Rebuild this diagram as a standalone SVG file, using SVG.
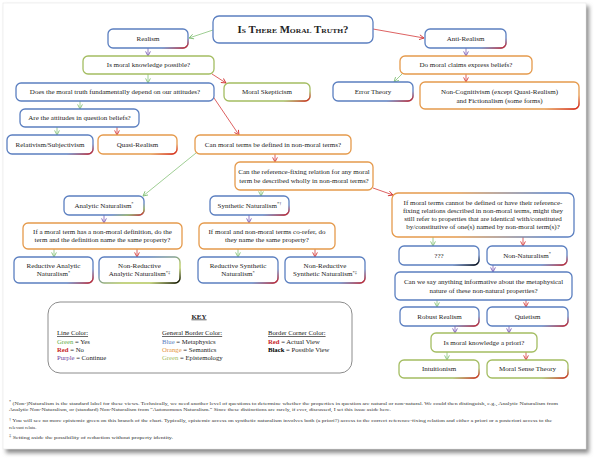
<svg xmlns="http://www.w3.org/2000/svg" width="594" height="462" viewBox="0 0 594 462">
<defs>
<style>
text{font-family:"Liberation Serif","Times New Roman",serif;fill:#222}
.t{font-size:7px;text-anchor:middle}
.k{font-size:6.7px}
.fn{font-size:4.6px;fill:#333}
.n rect{fill:#fff;stroke-width:1.3}
.b{stroke:#5b7fc0}
.o{stroke:#e59a4c}
.g{stroke:#a4bd62}
.cr{fill:none;stroke:url(#gRed);stroke-width:1.5}
.ck{fill:none;stroke:url(#gBlk);stroke-width:1.5}
.cg{fill:none;stroke:url(#gGR);stroke-width:1.5}
#connectors line{stroke-width:0.8;fill:none}
.lg{stroke:#86c178;marker-end:url(#mg)}
.lr{stroke:#d43a3a;marker-end:url(#mr)}
.lp{stroke:#7b5cb6;marker-end:url(#mp)}
.sup{font-size:4.5px}
</style>
<linearGradient id="gRed" x1="0" y1="0" x2="1" y2="1"><stop offset="0.5" stop-color="#d42020" stop-opacity="0"/><stop offset="1" stop-color="#d42020"/></linearGradient>
<linearGradient id="gBlk" x1="0" y1="0" x2="1" y2="1"><stop offset="0.5" stop-color="#000" stop-opacity="0"/><stop offset="1" stop-color="#000"/></linearGradient>
<linearGradient id="gGR" x1="0" y1="0" x2="1" y2="1"><stop offset="0.5" stop-color="#a4bd62" stop-opacity="0"/><stop offset="0.75" stop-color="#a4bd62"/><stop offset="1" stop-color="#d42020"/></linearGradient>
<linearGradient id="gOB" x1="0" y1="0" x2="1" y2="0"><stop offset="0.35" stop-color="#e59a4c"/><stop offset="0.85" stop-color="#5b7fc0"/></linearGradient>
<linearGradient id="gBG" x1="0" y1="0" x2="1" y2="1"><stop offset="0.3" stop-color="#5b7fc0"/><stop offset="0.65" stop-color="#b2c65a"/></linearGradient>
<marker id="mg" viewBox="0 0 6 6" refX="5.2" refY="3" markerWidth="6" markerHeight="6" markerUnits="userSpaceOnUse" orient="auto"><path d="M0.6,0.6 L5.2,3 L0.6,5.4" fill="none" stroke="#86c178" stroke-width="0.9"/></marker>
<marker id="mr" viewBox="0 0 6 6" refX="5.2" refY="3" markerWidth="6" markerHeight="6" markerUnits="userSpaceOnUse" orient="auto"><path d="M0.6,0.6 L5.2,3 L0.6,5.4" fill="none" stroke="#d43a3a" stroke-width="0.9"/></marker>
<marker id="mp" viewBox="0 0 6 6" refX="5.2" refY="3" markerWidth="6" markerHeight="6" markerUnits="userSpaceOnUse" orient="auto"><path d="M0.6,0.6 L5.2,3 L0.6,5.4" fill="none" stroke="#7b5cb6" stroke-width="0.9"/></marker>
<filter id="blur" x="-5%" y="-5%" width="110%" height="110%"><feGaussianBlur stdDeviation="2"/></filter>
</defs>
<rect width="594" height="462" fill="#fff"/>
<rect x="6" y="6" width="583" height="447" fill="#8a8a8a" filter="url(#blur)"/>
<rect x="3" y="3" width="583" height="446" fill="#fff" stroke="#e6e6e6" stroke-width="0.6"/>

<g id="connectors">
<line class="lg" x1="213" y1="30" x2="189" y2="38"/>
<line class="lr" x1="373" y1="29" x2="424" y2="38"/>
<line class="lp" x1="148" y1="48" x2="148" y2="56"/>
<line class="lp" x1="466" y1="48" x2="466" y2="56"/>
<line class="lg" x1="148" y1="74" x2="148" y2="83"/>
<line class="lr" x1="212" y1="74" x2="226" y2="83"/>
<line class="lg" x1="402" y1="74" x2="394" y2="82"/>
<line class="lr" x1="466" y1="74" x2="466" y2="82"/>
<line class="lg" x1="80" y1="101" x2="80" y2="109"/>
<line class="lr" x1="212" y1="95" x2="239" y2="135"/>
<line class="lg" x1="57" y1="127" x2="57" y2="135"/>
<line class="lr" x1="117" y1="127" x2="117" y2="135"/>
<line class="lg" x1="196" y1="153" x2="143" y2="196"/>
<line class="lr" x1="275" y1="154" x2="275" y2="162"/>
<line class="lg" x1="261" y1="190" x2="261" y2="196"/>
<line class="lr" x1="373" y1="188" x2="393" y2="195"/>
<line class="lp" x1="104" y1="215" x2="104" y2="223"/>
<line class="lp" x1="249" y1="215" x2="249" y2="223"/>
<line class="lg" x1="54" y1="249" x2="54" y2="257"/>
<line class="lr" x1="137" y1="249" x2="137" y2="257"/>
<line class="lg" x1="238" y1="249" x2="238" y2="257"/>
<line class="lr" x1="315" y1="249" x2="315" y2="257"/>
<line class="lg" x1="433" y1="237" x2="433" y2="246"/>
<line class="lr" x1="523" y1="237" x2="523" y2="246"/>
<line class="lp" x1="493" y1="265" x2="493" y2="272"/>
<line class="lg" x1="437" y1="300" x2="437" y2="307"/>
<line class="lr" x1="526" y1="300" x2="526" y2="307"/>
<line class="lp" x1="455" y1="326" x2="455" y2="333"/>
<line class="lp" x1="509" y1="326" x2="509" y2="333"/>
<line class="lg" x1="447" y1="352" x2="447" y2="360"/>
<line class="lr" x1="526" y1="352" x2="526" y2="360"/>
</g>

<g id="title" class="n"><rect class="b" x="213" y="16" width="160" height="27" rx="6"/><text x="293" y="33" text-anchor="middle" font-size="10" font-weight="bold" font-variant="small-caps" textLength="111" lengthAdjust="spacingAndGlyphs">Is There Moral Truth?</text></g>
<g id="realism" class="n"><rect class="b" x="108" y="29" width="80" height="19" rx="5"/><path class="cr" d="M162,48 H183 A5,5 0 0 0 188,43 V38"/><text class="t" x="148" y="40.8">Realism</text></g>
<g id="anti-realism" class="n"><rect class="b" x="425" y="29" width="81" height="19" rx="5"/><path class="cr" d="M480,48 H501 A5,5 0 0 0 506,43 V38"/><text class="t" x="465.5" y="40.8">Anti-Realism</text></g>
<g id="q-knowledge" class="n"><rect class="g" x="83" y="56" width="131" height="18" rx="5"/><text class="t" x="148.5" y="67.3">Is moral knowledge possible?</text></g>
<g id="q-express" class="n"><rect class="o" x="400" y="56" width="132" height="18" rx="5"/><text class="t" x="466" y="67.3">Do moral claims express beliefs?</text></g>
<g id="q-depend" class="n"><rect class="b" x="16" y="83" width="198" height="18" rx="5"/><text class="t" x="115" y="94.3">Does the moral truth fundamentally depend on our attitudes?</text></g>
<g id="moral-skepticism" class="n"><rect class="g" x="224" y="83" width="86" height="18" rx="5"/><path class="cr" d="M284,101 H305 A5,5 0 0 0 310,96 V91"/><text class="t" x="267" y="94.3">Moral Skepticism</text></g>
<g id="error-theory" class="n"><rect class="b" x="333" y="82" width="80" height="19" rx="5"/><path class="cr" d="M387,101 H408 A5,5 0 0 0 413,96 V91"/><text class="t" x="373" y="93.5">Error Theory</text></g>
<g id="non-cognitivism" class="n"><rect class="o" x="420" y="82" width="159" height="27" rx="5"/><path class="cr" d="M545,109 H574 A5,5 0 0 0 579,104 V95"/><text class="t" x="499.5" y="94">Non-Cognitivism (except Quasi-Realism)</text><text class="t" x="499.5" y="102.5">and Fictionalism (some forms)</text></g>
<g id="q-attitudes" class="n"><rect class="b" x="20" y="109" width="119" height="18" rx="5"/><text class="t" x="79.5" y="120.3">Are the attitudes in question beliefs?</text></g>
<g id="relativism" class="n"><rect class="b" x="7" y="135" width="86" height="19" rx="5"/><path class="cr" d="M67,154 H88 A5,5 0 0 0 93,149 V144"/><text class="t" x="50" y="146.8">Relativism/Subjectivism</text></g>
<g id="quasi-realism" class="n"><rect class="o" x="98" y="135" width="79" height="19" rx="5"/><path class="cr" d="M151,154 H172 A5,5 0 0 0 177,149 V144"/><text class="t" x="137.5" y="146.8">Quasi-Realism</text></g>
<g id="q-defined" class="n"><rect class="o" x="195" y="135" width="156" height="19" rx="5"/><text class="t" x="273" y="146.8">Can moral terms be defined in non-moral terms?</text></g>
<g id="q-reference" class="n"><rect class="o" x="235" y="162" width="138" height="28" rx="5"/><text class="t" x="304" y="174">Can the reference-fixing relation for any moral</text><text class="t" x="304" y="182.5">term be described wholly in non-moral terms?</text></g>
<g id="analytic-naturalism" class="n"><rect class="b" x="64" y="196" width="80" height="19" rx="5"/><path class="cg" d="M112,215 H139 A5,5 0 0 0 144,210 V203"/><text class="t" x="104" y="207.8">Analytic Naturalism<tspan class="sup" dy="-2.5">*</tspan></text></g>
<g id="synthetic-naturalism" class="n"><rect class="b" x="210" y="196" width="79" height="19" rx="5"/><path class="cr" d="M263,215 H284 A5,5 0 0 0 289,210 V205"/><text class="t" x="249.5" y="207.8">Synthetic Naturalism<tspan class="sup" dy="-2.5">*†</tspan></text></g>
<g id="q-nonnatural-refer" class="n"><rect x="392" y="193" width="182" height="44" rx="6" stroke="url(#gOB)"/><text class="t" x="483" y="205">If moral terms cannot be defined or have their reference-</text><text class="t" x="483" y="213">fixing relations described in non-moral terms, might they</text><text class="t" x="483" y="221">still refer to properties that are identical with/constituted</text><text class="t" x="483" y="229">by/constitutive of one(s) named by non-moral term(s)?</text></g>
<g id="q-analytic-same" class="n"><rect class="o" x="23" y="223" width="159" height="26" rx="5"/><text class="t" x="102.5" y="234">If a moral term has a non-moral definition, do the</text><text class="t" x="102.5" y="242">term and the definition name the same property?</text></g>
<g id="q-synthetic-same" class="n"><rect class="o" x="199" y="223" width="136" height="26" rx="5"/><text class="t" x="267" y="234">If moral and non-moral terms co-refer, do</text><text class="t" x="267" y="242">they name the same property?</text></g>
<g id="reductive-analytic" class="n"><rect class="b" x="14" y="257" width="79" height="26" rx="5"/><path class="cr" d="M67,283 H88 A5,5 0 0 0 93,278 V269"/><text class="t" x="53.5" y="268">Reductive Analytic</text><text class="t" x="53.5" y="276">Naturalism<tspan class="sup" dy="-2.5">*</tspan></text></g>
<g id="nonreductive-analytic" class="n"><rect x="99" y="257" width="81" height="26" rx="5" stroke="url(#gBG)"/><path class="ck" d="M150,283 H175 A5,5 0 0 0 180,278 V268"/><text class="t" x="139.5" y="268">Non-Reductive</text><text class="t" x="139.5" y="276">Analytic Naturalism<tspan class="sup" dy="-2.5">*‡</tspan></text></g>
<g id="reductive-synthetic" class="n"><rect class="b" x="198" y="257" width="80" height="26" rx="5"/><path class="cr" d="M252,283 H273 A5,5 0 0 0 278,278 V269"/><text class="t" x="238" y="268">Reductive Synthetic</text><text class="t" x="238" y="276">Naturalism<tspan class="sup" dy="-2.5">*</tspan></text></g>
<g id="nonreductive-synthetic" class="n"><rect class="b" x="285" y="257" width="80" height="26" rx="5"/><path class="cr" d="M339,283 H360 A5,5 0 0 0 365,278 V269"/><text class="t" x="325" y="268">Non-Reductive</text><text class="t" x="325" y="276">Synthetic Naturalism<tspan class="sup" dy="-2.5">*‡</tspan></text></g>
<g id="unknown" class="n"><rect class="b" x="399" y="246" width="80" height="19" rx="5"/><path class="ck" d="M453,265 H474 A5,5 0 0 0 479,260 V255"/><text class="t" x="439" y="257.8">???</text></g>
<g id="non-naturalism" class="n"><rect class="b" x="487" y="246" width="80" height="19" rx="5"/><path class="cr" d="M541,265 H562 A5,5 0 0 0 567,260 V255"/><text class="t" x="527" y="257.8">Non-Naturalism<tspan class="sup" dy="-2.5">*</tspan></text></g>
<g id="q-metaphysical" class="n"><rect class="b" x="395" y="272" width="177" height="28" rx="5"/><text class="t" x="483.5" y="284">Can we say anything informative about the metaphysical</text><text class="t" x="483.5" y="292.5">nature of these non-natural properties?</text></g>
<g id="robust-realism" class="n"><rect class="b" x="400" y="307" width="79" height="19" rx="5"/><path class="cr" d="M453,326 H474 A5,5 0 0 0 479,321 V316"/><text class="t" x="439.5" y="318.8">Robust Realism</text></g>
<g id="quietism" class="n"><rect class="b" x="487" y="307" width="81" height="19" rx="5"/><path class="cr" d="M542,326 H563 A5,5 0 0 0 568,321 V316"/><text class="t" x="527.5" y="318.8">Quietism</text></g>
<g id="q-apriori" class="n"><rect class="g" x="431" y="333" width="106" height="19" rx="5"/><text class="t" x="484" y="344.8">Is moral knowledge a priori?</text></g>
<g id="intuitionism" class="n"><rect class="g" x="399" y="360" width="80" height="18" rx="5"/><path class="cr" d="M453,378 H474 A5,5 0 0 0 479,373 V368"/><text class="t" x="439" y="371.3">Intuitionism</text></g>
<g id="moral-sense" class="n"><rect class="g" x="487" y="360" width="81" height="18" rx="5"/><path class="cr" d="M542,378 H563 A5,5 0 0 0 568,373 V368"/><text class="t" x="527.5" y="371.3">Moral Sense Theory</text></g>

<g id="key">
<rect x="48" y="302" width="304" height="71" rx="12" fill="#fff" stroke="#8c8c8c" stroke-width="1"/>
<text x="199" y="318.5" text-anchor="middle" font-size="7" font-weight="bold" text-decoration="underline">KEY</text>
<text class="k" x="57" y="335.3" text-decoration="underline">Line Color:</text>
<text class="k" x="57" y="343.6"><tspan fill="#5fae4d">Green</tspan> = Yes</text>
<text class="k" x="57" y="351.9"><tspan fill="#c8252a" font-weight="bold">Red</tspan> = No</text>
<text class="k" x="57" y="360.2"><tspan fill="#6b3fa0">Purple</tspan> = Continue</text>
<text class="k" x="162" y="335.3" text-decoration="underline">General Border Color:</text>
<text class="k" x="162" y="343.6"><tspan fill="#5b7fc0">Blue</tspan> = Metaphysics</text>
<text class="k" x="162" y="351.9"><tspan fill="#e5953e">Orange</tspan> = Semantics</text>
<text class="k" x="162" y="360.2"><tspan fill="#a4bd62">Green</tspan> = Epistemology</text>
<text class="k" x="268" y="335.3" text-decoration="underline">Border Corner Color:</text>
<text class="k" x="268" y="343.6"><tspan fill="#c8252a" font-weight="bold">Red</tspan> = Actual View</text>
<text class="k" x="268" y="351.9"><tspan font-weight="bold" fill="#000">Black</tspan> = Possible View</text>
</g>

<g id="footnotes">
<text class="fn" x="9" y="404.5" textLength="549" lengthAdjust="spacingAndGlyphs"><tspan font-size="3.4" dy="-1.3">*</tspan><tspan dy="1.3"> (Non-)Naturalism is the standard label for these views. Technically, we need another level of questions to determine whether the properties in question are natural or non-natural. We could then distinguish, e.g., Analytic Naturalism from</tspan></text>
<text class="fn" x="9" y="410.5" textLength="382" lengthAdjust="spacingAndGlyphs">Analytic Non-Naturalism, or (standard) Non-Naturalism from “Autonomous Naturalism.” Since these distinctions are rarely, if ever, discussed, I set this issue aside here.</text>
<text class="fn" x="9" y="422" textLength="543" lengthAdjust="spacingAndGlyphs"><tspan font-size="3.4" dy="-1.3">†</tspan><tspan dy="1.3"> You will see no more epistemic green on this branch of the chart. Typically, epistemic access on synthetic naturalism involves both (a priori?) access to the correct reference-fixing relation and either a priori or a posteriori access to the</tspan></text>
<text class="fn" x="9" y="428.5">relevant relata.</text>
<text class="fn" x="9" y="438.5" textLength="164" lengthAdjust="spacingAndGlyphs"><tspan font-size="3.4" dy="-1.3">‡</tspan><tspan dy="1.3"> Setting aside the possibility of reduction without property identity.</tspan></text>
</g>
</svg>
